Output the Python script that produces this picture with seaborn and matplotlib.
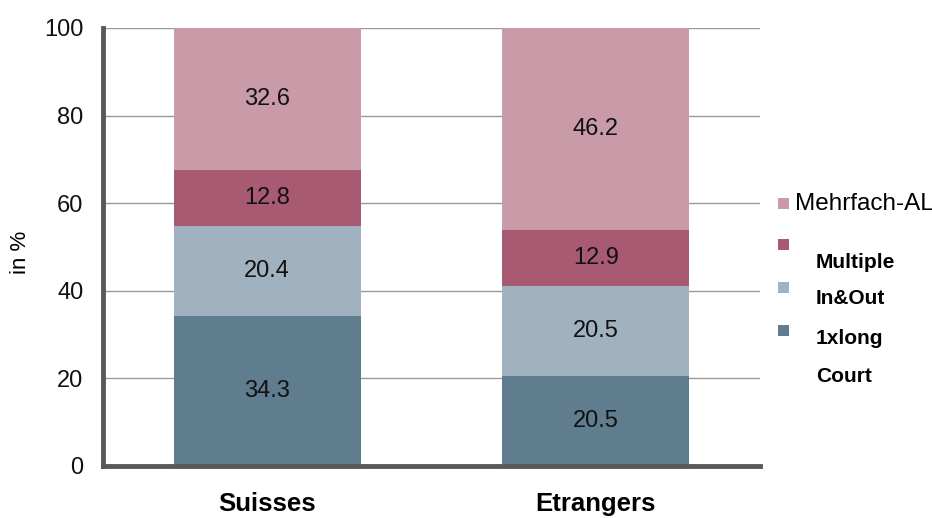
import matplotlib
matplotlib.use("Agg")
import matplotlib.pyplot as plt
import seaborn as sns
import pandas as pd
import numpy as np
from matplotlib.patches import Rectangle

categories = ["Suisses", "Etrangers"]
segments = ["1xlong", "In&Out", "Multiple", "Mehrfach-AL"]
val_1xlong = [34.3, 20.5]
val_inout = [20.4, 20.5]
val_multiple = [12.8, 12.9]
val_mehrfach = [32.6, 46.2]
colors = ["#5F7D8F", "#A0B2C0", "#A85A72", "#C99BA9"]
yticks = [0, 20, 40, 60, 80, 100]

series = [val_1xlong, val_inout, val_multiple, val_mehrfach]

sns.set_style("white")
plt.rcParams["font.family"] = ["Liberation Sans", "DejaVu Sans"]
plt.rcParams["text.color"] = "#000000"

fig = plt.figure(figsize=(9.32, 5.18), dpi=100)
ax = fig.add_axes([103 / 932, 1 - 466 / 518, 657 / 932, 438 / 518])

# gridlines behind bars
for t in yticks[1:]:
    ax.axhline(t, color="#9a9a9a", lw=1.0, zorder=0)

bottoms = np.zeros(len(categories))
x = np.arange(len(categories))
for seg, vals, col in zip(segments, series, colors):
    sub = pd.DataFrame({"cat": categories, "val": vals})
    sns.barplot(data=sub, x="cat", y="val", color=col, width=0.57,
                bottom=bottoms.copy(), ax=ax, zorder=2, edgecolor="none",
                saturation=1)
    for xi, (b, v) in enumerate(zip(bottoms, vals)):
        top = min(b + v, 100)
        ax.text(xi, (b + top) / 2, f"{v:.1f}", ha="center", va="center",
                fontsize=17, color="#111111", zorder=3)
    bottoms = bottoms + np.array(vals)

ax.set_ylim(0, 100)
ax.set_xlim(-0.5, 1.5)
ax.set_yticks(yticks)
ax.set_yticklabels([str(t) for t in yticks], fontsize=17, color="#111111")
ax.set_xticks(x)
ax.set_xticklabels(categories, fontsize=18.5, fontweight="bold", color="#000000")
ax.tick_params(axis="both", length=0)
ax.tick_params(axis="y", pad=14)
ax.tick_params(axis="x", pad=19)
ax.set_xlabel("")
ax.set_ylabel("")
for s in ["top", "right"]:
    ax.spines[s].set_visible(False)
for s in ["left", "bottom"]:
    ax.spines[s].set_color("#595959")
    ax.spines[s].set_linewidth(3.5)
    ax.spines[s].set_zorder(4)
ax.patch.set_alpha(0)

def px(xp, yp):
    return xp / 932, 1 - yp / 518

fig.text(*px(20, 252), "in %", fontsize=16, rotation=90, va="center", ha="center")

# legend (as drawn in reference)
leg_patches = [(203, colors[3]), (244, colors[2]), (287, colors[1]), (330, colors[0])]
for yp, col in leg_patches:
    x0, y0 = px(778, yp + 5.5)
    fig.patches.append(Rectangle((x0, y0), 11 / 932, 11 / 518, transform=fig.transFigure,
                                 facecolor=col, edgecolor="none"))
fig.text(*px(795, 204), "Mehrfach-AL", fontsize=17.5, va="center", ha="left")
for label, yp in [("Multiple", 262), ("In&Out", 299), ("1xlong", 339), ("Court", 376)]:
    fig.text(*px(816, yp), label, fontsize=15, fontweight="bold", va="center", ha="left")

fig.savefig("out.png", dpi=100)
